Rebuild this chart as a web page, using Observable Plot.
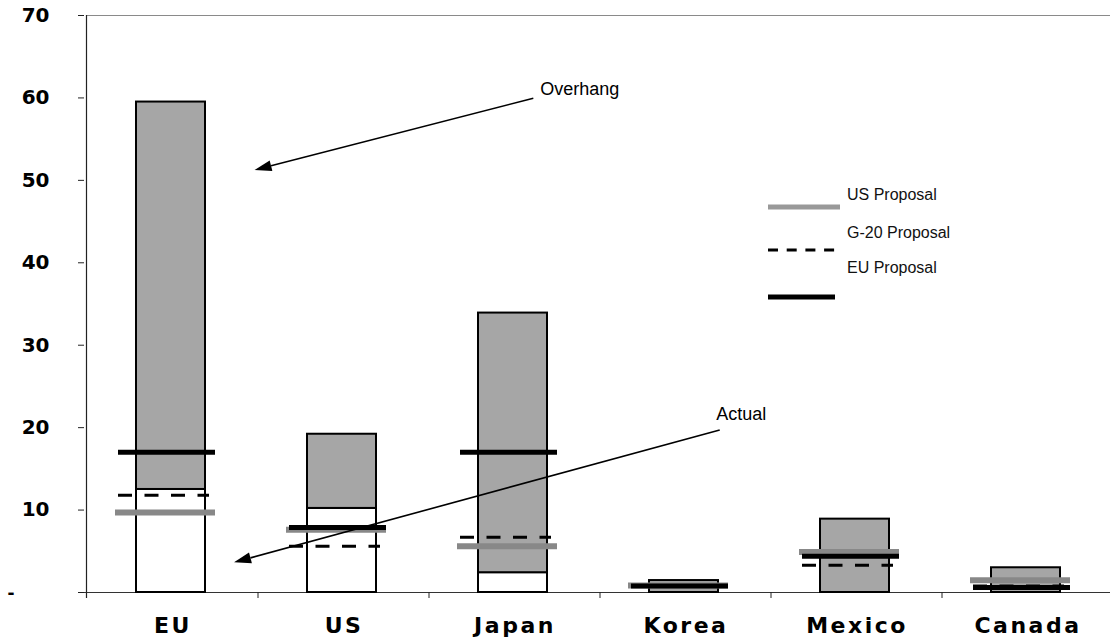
<!DOCTYPE html>
<html>
<head>
<meta charset="utf-8">
<script src="https://cdn.jsdelivr.net/npm/d3@7"></script>
<script src="https://cdn.jsdelivr.net/npm/@observablehq/plot@0.6"></script>
<style>
  html, body { margin: 0; padding: 0; background: #fff; }
  #chart { width: 1110px; height: 643px; overflow: hidden; }
  g[aria-label="text"] text { letter-spacing: 2.5px; }
  g[aria-label="y-axis tick label"] text { font-weight: bold; font-family: 'DejaVu Sans', sans-serif; }
</style>
</head>
<body>
<div id="chart"></div>
<script>
const categories = ["EU", "US", "Japan", "Korea", "Mexico", "Canada"];
const actual = [12.5, 10.2, 2.4, 0, 0, 0];
const total = [59.5, 19.2, 33.9, 1.45, 8.9, 3.0];
const usProposal = [9.7, 7.6, 5.6, 0.85, 4.9, 1.5];
const g20Proposal = [11.8, 5.6, 6.7, 0.85, 3.3, 0.8];
const euProposal = [17.0, 7.9, 17.0, 0.8, 4.4, 0.6];
const yTicks = [0, 10, 20, 30, 40, 50, 60, 70];

const legendItems = [
  {label: "US Proposal", kind: "us"},
  {label: "G-20 Proposal", kind: "g20"},
  {label: "EU Proposal", kind: "eu"}
];

// annotations in data units: category + fraction of band, value
const arrows = [
  {text: "Overhang", fromCat: "Japan", fromF: 0.61, fromV: 59.9, toCat: "EU", toF: 0.98, toV: 51.2, textF: 0.65, textV: 60.3},
  {text: "Actual", fromCat: "Korea", fromF: 0.70, fromV: 19.65, toCat: "EU", toF: 0.86, toV: 3.6, textF: 0.68, textV: 20.9}
];

const data = categories.map((c, i) => ({
  category: c, actual: actual[i], total: total[i],
  us: usProposal[i], g20: g20Proposal[i], eu: euProposal[i]
}));

const font = "'Liberation Sans', Arial, Helvetica, sans-serif";
const boldFont = "'DejaVu Sans', 'Liberation Sans', sans-serif";

function decorations(index, scales, values, dimensions) {
  const x = scales.x, y = scales.y;
  const bw = x(categories[1]) - x(categories[0]);
  const px = (cat, f) => x(cat) + f * bw;
  const g = d3.create("svg:g").attr("text-anchor", "start");
  const left = x(categories[0]) - 0.5;
  const y0 = y(0), yTop = y(70);
  // top border
  g.append("line").attr("x1", left).attr("x2", dimensions.width)
    .attr("y1", yTop + 0.5).attr("y2", yTop + 0.5).attr("stroke", "#8a8a8a").attr("stroke-width", 1);
  // y axis line
  g.append("line").attr("x1", left).attr("x2", left)
    .attr("y1", yTop).attr("y2", y0 + 6).attr("stroke", "#222").attr("stroke-width", 1.2);
  // x ticks at band boundaries
  categories.slice(1).forEach(c => {
    g.append("line").attr("x1", x(c)).attr("x2", x(c))
      .attr("y1", y0).attr("y2", y0 + 6).attr("stroke", "#222").attr("stroke-width", 1);
  });
  // arrows
  arrows.forEach(a => {
    const x1 = px(a.fromCat, a.fromF), y1 = y(a.fromV);
    const x2 = px(a.toCat, a.toF), y2 = y(a.toV);
    const ang = Math.atan2(y2 - y1, x2 - x1);
    const L = 17, W = 5.5;
    const bx = x2 - L * Math.cos(ang), by = y2 - L * Math.sin(ang);
    g.append("line").attr("x1", x1).attr("y1", y1).attr("x2", bx).attr("y2", by)
      .attr("stroke", "black").attr("stroke-width", 1.6);
    const nx = -Math.sin(ang) * W, ny = Math.cos(ang) * W;
    g.append("path").attr("d", `M${x2},${y2}L${bx + nx},${by + ny}L${bx - nx},${by - ny}Z`).attr("fill", "black");
    g.append("text").attr("x", px(a.fromCat, a.textF)).attr("y", y(a.textV))
      .attr("text-anchor", "start")
      .attr("font-size", 18).attr("font-family", font).attr("fill", "black").text(a.text);
  });
  // legend
  const lg = g.append("g").attr("font-family", font).attr("font-size", 16).attr("text-anchor", "start");
  const textY = [200, 238, 273];
  const lineY = [207, 250, 297];
  legendItems.forEach((it, i) => {
    lg.append("text").attr("x", 847).attr("y", textY[i]).attr("fill", "#111").text(it.label);
    const ln = lg.append("line").attr("y1", lineY[i]).attr("y2", lineY[i]).attr("x1", 768);
    if (it.kind === "us") ln.attr("x2", 840).attr("stroke", "#999").attr("stroke-width", 5);
    else if (it.kind === "g20") ln.attr("x2", 835).attr("stroke", "black").attr("stroke-width", 3).attr("stroke-dasharray", "10,8.7");
    else ln.attr("x2", 835).attr("stroke", "black").attr("stroke-width", 5);
  });
  return g.node();
}

const chart = Plot.plot({
  width: 1110,
  height: 643,
  marginLeft: 84,
  marginRight: -5,
  marginTop: 15,
  marginBottom: 51,
  x: {domain: categories, padding: 0, axis: null},
  y: {domain: [0, 70], axis: null},
  style: {fontFamily: font, background: "white", color: "black", overflow: "hidden"},
  marks: [
    Plot.axisY(yTicks, {
      anchor: "left", tickSize: 6, tickPadding: 29, fontSize: 20, fontWeight: "bold",
      tickFormat: d => d === 0 ? "" : String(d), textAnchor: "end", stroke: "#222"
    }),
    Plot.text([0], {y: d => d, frameAnchor: "left", dx: -77, textAnchor: "start",
      text: () => "-", fontSize: 21, fontWeight: "bold"}),
    Plot.ruleY([0], {stroke: "#333", strokeWidth: 1}),
    Plot.barY(data.filter(d => d.actual > 0), {x: "category", y1: 0, y2: "actual",
      fill: "white", stroke: "black", strokeWidth: 2, insetLeft: 51, insetRight: 51, dx: -2}),
    Plot.barY(data, {x: "category", y1: "actual", y2: "total",
      fill: "#a6a6a6", stroke: "black", strokeWidth: 2, insetLeft: 51, insetRight: 51, dx: -2}),
    Plot.tickY(data, {x: "category", y: "us", stroke: "#888", strokeWidth: 6,
      insetLeft: 34, insetRight: 37, dx: -6}),
    Plot.tickY(data, {x: "category", y: "g20", stroke: "black", strokeWidth: 3,
      strokeDasharray: "14,12.5", insetLeft: 37, insetRight: 43, dx: -6}),
    Plot.tickY(data, {x: "category", y: "eu", stroke: "black", strokeWidth: 5,
      insetLeft: 37, insetRight: 37, dx: -6}),
    Plot.text(categories, {x: d => d, frameAnchor: "bottom", dy: 33, lineAnchor: "middle",
      text: d => d, fontSize: 22, fontWeight: "bold", fontFamily: boldFont, fill: "black"}),
    decorations
  ]
});
document.getElementById("chart").appendChild(chart);
</script>
</body>
</html>
